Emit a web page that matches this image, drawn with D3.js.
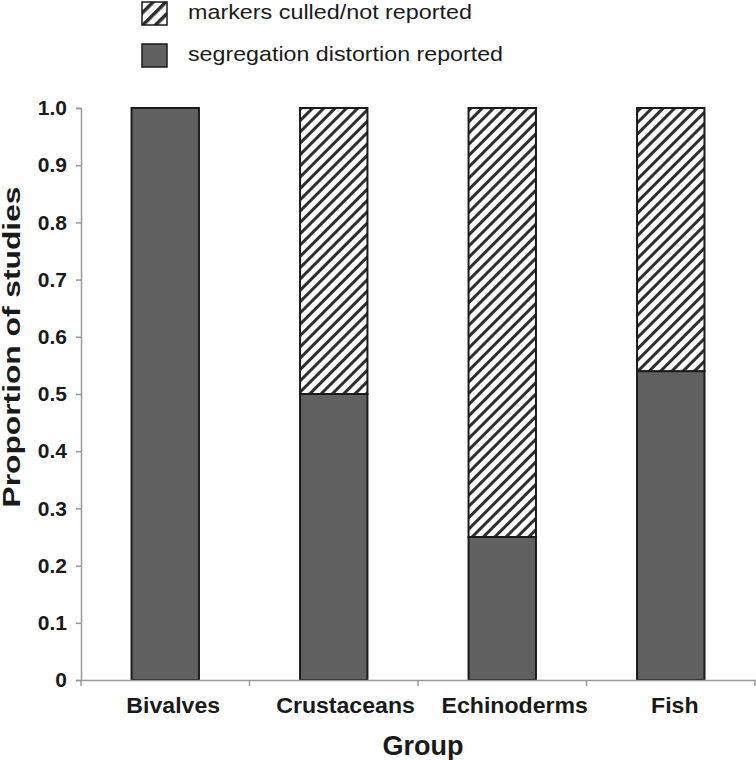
<!DOCTYPE html>
<html><head><meta charset="utf-8">
<script src="https://cdn.jsdelivr.net/npm/d3@7"></script>
<style>body{margin:0;background:#fff}svg{display:block}</style>
</head><body>
<script>
const categories = ["Bivalves", "Crustaceans", "Echinoderms", "Fish"];
const reported = [1.0, 0.5, 0.25, 0.54];
const culled = [0.0, 0.5, 0.75, 0.46];
const yTicks = [0, 0.1, 0.2, 0.3, 0.4, 0.5, 0.6, 0.7, 0.8, 0.9, 1.0];
const legendLabels = ["markers culled/not reported", "segregation distortion reported"];

const W = 756, H = 760;
const svg = d3.select("body").append("svg").attr("width", W).attr("height", H);
const defs = svg.append("defs");
function hatch(id, size, sw) {
  const pat = defs.append("pattern").attr("id", id).attr("patternUnits", "userSpaceOnUse")
    .attr("width", size).attr("height", size).attr("patternTransform", "rotate(45)");
  pat.append("rect").attr("width", size).attr("height", size).attr("fill", "#fff");
  pat.append("rect").attr("x", 0).attr("y", 0).attr("width", sw).attr("height", size).attr("fill", "#2e2e2e");
}
hatch("hatch", 8, 3);
hatch("hatchLeg", 9, 3.5);

const x = d3.scaleBand().domain(categories).range([81, 755]).paddingInner(0).paddingOuter(0);
const y = d3.scaleLinear().domain([0, 1]).range([680, 108]);
const bw = x.bandwidth() * 0.4;
const font = "Liberation Sans, Arial, Helvetica, sans-serif";

// bars
const g = svg.append("g");
categories.forEach((c, i) => {
  const cx = x(c) + x.bandwidth() / 2;
  g.append("rect").attr("x", cx - bw / 2).attr("y", y(reported[i])).attr("width", bw)
    .attr("height", y(0) - y(reported[i])).attr("fill", "#606060").attr("stroke", "#1a1a1a").attr("stroke-width", 2);
  if (culled[i] > 0) {
    g.append("rect").attr("x", cx - bw / 2).attr("y", y(reported[i] + culled[i])).attr("width", bw)
      .attr("height", y(reported[i]) - y(reported[i] + culled[i])).attr("fill", "url(#hatch)")
      .attr("stroke", "#1a1a1a").attr("stroke-width", 2);
  }
});

// y axis
const yAxis = svg.append("g").attr("transform", "translate(81,0)")
  .call(d3.axisLeft(y).tickValues(yTicks).tickSize(5).tickPadding(9)
    .tickFormat(d => d === 0 ? "0" : d3.format(".1f")(d)));
yAxis.select(".domain").attr("stroke", "#999").attr("stroke-width", 1.5);
yAxis.selectAll(".tick line").attr("stroke", "#999").attr("stroke-width", 1.5);
yAxis.selectAll("text").attr("font-family", font).attr("font-size", 21).attr("font-weight", "bold").attr("fill", "#1a1a1a");

// x axis
const xAxis = svg.append("g").attr("transform", "translate(0,680)")
  .call(d3.axisBottom(x).tickSize(0).tickPadding(17));
xAxis.select(".domain").attr("stroke", "#999").attr("stroke-width", 1.5);
xAxis.selectAll("text").attr("font-family", font).attr("font-size", 22).attr("font-weight", "bold").attr("fill", "#1a1a1a")
  .each(function () {
    const w = this.getComputedTextLength() * 1.05;
    d3.select(this).attr("textLength", w).attr("lengthAdjust", "spacingAndGlyphs").attr("dx", w * 0.085);
  });
const bounds = x.domain().map(d => x(d)).concat([x.range()[1]]);
svg.append("g").selectAll("line").data(bounds).join("line")
  .attr("x1", d => d).attr("x2", d => d).attr("y1", 680).attr("y2", 686)
  .attr("stroke", "#999").attr("stroke-width", 1.5);

// axis titles
svg.append("text").attr("x", 423).attr("y", 755).attr("text-anchor", "middle")
  .attr("font-family", font).attr("font-size", 27).attr("font-weight", "bold").attr("fill", "#1a1a1a").text("Group");
svg.append("text").attr("transform", "translate(20,347) rotate(-90)").attr("text-anchor", "middle")
  .attr("textLength", 321).attr("lengthAdjust", "spacingAndGlyphs")
  .attr("font-family", font).attr("font-size", 23).attr("font-weight", "bold").attr("fill", "#1a1a1a").text("Proportion of studies");

// legend
const leg = svg.append("g");
const fills = ["url(#hatchLeg)", "#606060"];
const legLen = [284, 315];
legendLabels.forEach((t, i) => {
  const yy = 2 + i * 42;
  leg.append("rect").attr("x", 142).attr("y", yy).attr("width", 25).attr("height", 23)
    .attr("fill", fills[i]).attr("stroke", "#1a1a1a").attr("stroke-width", 1.5);
  leg.append("text").attr("x", 188).attr("y", yy + 16.5).attr("textLength", legLen[i]).attr("lengthAdjust", "spacingAndGlyphs")
    .attr("font-family", font).attr("font-size", 21).attr("fill", "#1a1a1a").text(t);
});
</script>
</body></html>
